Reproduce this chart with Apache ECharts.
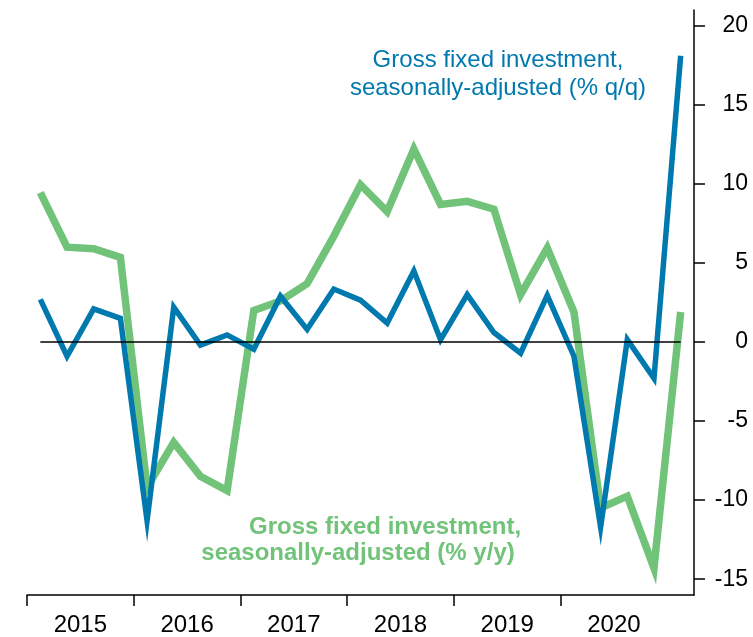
<!DOCTYPE html>
<html>
<head>
<meta charset="utf-8">
<script src="https://cdn.jsdelivr.net/npm/echarts@6/dist/echarts.min.js"></script>
<style>
  html, body { margin: 0; padding: 0; background: #fff; }
  #chart { width: 753px; height: 637px; }
</style>
</head>
<body>
<div id="chart"></div>
<script>
// quarterly, 2015 Q1 .. 2021 Q1
var quarters = ['2015Q1','2015Q2','2015Q3','2015Q4','2016Q1','2016Q2','2016Q3','2016Q4',
                '2017Q1','2017Q2','2017Q3','2017Q4','2018Q1','2018Q2','2018Q3','2018Q4',
                '2019Q1','2019Q2','2019Q3','2019Q4','2020Q1','2020Q2','2020Q3','2020Q4','2021Q1'];
var qoqValues = [2.7, -0.9, 2.1, 1.5, -11.3, 2.2, -0.2, 0.45, -0.45, 2.9, 0.8, 3.35, 2.65,
                 1.2, 4.5, 0.15, 3.0, 0.6, -0.7, 2.95, -0.9, -11.7, 0.15, -2.3, 18.1];
var yoyValues = [9.45, 6.0, 5.9, 5.35, -9.2, -6.35, -8.5, -9.4, 2.0, 2.6, 3.7, 6.7, 9.95,
                 8.25, 12.2, 8.7, 8.9, 8.4, 3.0, 5.95, 1.9, -10.5, -9.75, -14.3, 1.9];
var years = ['2015', '2016', '2017', '2018', '2019', '2020'];
var yTicks = [-15, -10, -5, 0, 5, 10, 15, 20];

var BLUE = '#0079ae';
var GREEN = '#72c37a';
var FONT = 'Liberation Sans, Arial, sans-serif';

function toPoints(values) {
    return values.map(function (v, i) { return [i + 0.5, v]; });
}

var yearTickPos = [];
var yearLabelPos = [];
years.forEach(function (y, i) {
    yearTickPos.push(i * 4);
    yearLabelPos.push(i * 4 + 2);
});

var chart = echarts.init(document.getElementById('chart'));

chart.setOption({
    animation: false,
    grid: { left: 27, right: 59, top: 10, bottom: 41 },
    xAxis: {
        type: 'value',
        min: 0,
        max: quarters.length,
        axisLine: { show: true, onZero: false, lineStyle: { color: '#000', width: 1.5 } },
        axisTick: { show: true, length: 11, customValues: yearTickPos, lineStyle: { color: '#000', width: 1.5 } },
        axisLabel: {
            customValues: yearLabelPos,
            margin: 18,
            color: '#000',
            fontSize: 24,
            fontFamily: FONT,
            formatter: function (v) { return years[Math.round((v - 2) / 4)]; }
        },
        splitLine: { show: false }
    },
    yAxis: {
        type: 'value',
        position: 'right',
        min: -16,
        max: 21,
        axisLine: { show: true, onZero: false, lineStyle: { color: '#000', width: 1.5 } },
        axisTick: { show: true, length: 11, customValues: yTicks, lineStyle: { color: '#000', width: 1.5 } },
        axisLabel: {
            customValues: yTicks,
            align: 'right',
            margin: 54,
            color: '#000',
            fontSize: 23,
            fontFamily: FONT
        },
        splitLine: { show: false }
    },
    series: [
        {
            name: 'yoy',
            type: 'line',
            data: toPoints(yoyValues),
            symbol: 'none',
            lineStyle: { color: GREEN, width: 7.5, join: 'miter' },
            z: 2
        },
        {
            name: 'qoq',
            type: 'line',
            data: toPoints(qoqValues),
            symbol: 'none',
            lineStyle: { color: BLUE, width: 5.5, join: 'miter' },
            z: 3,
            markLine: {
                silent: true,
                symbol: 'none',
                label: { show: false },
                lineStyle: { color: '#000', width: 1.5, type: 'solid' },
                data: [[{ coord: [0.5, 0] }, { coord: [quarters.length - 0.5, 0] }]]
            }
        }
    ],
    graphic: [
        {
            type: 'text',
            x: 498,
            y: 74,
            style: {
                text: 'Gross fixed investment,\nseasonally-adjusted (% q/q)',
                fill: BLUE,
                font: '24px ' + FONT,
                align: 'center',
                verticalAlign: 'middle',
                lineHeight: 28
            }
        },
        {
            type: 'text',
            x: 385,
            y: 527,
            style: {
                text: 'Gross fixed investment,',
                fill: GREEN,
                font: 'bold 24px ' + FONT,
                align: 'center',
                verticalAlign: 'middle'
            }
        },
        {
            type: 'text',
            x: 358,
            y: 553,
            style: {
                text: 'seasonally-adjusted (% y/y)',
                fill: GREEN,
                font: 'bold 24px ' + FONT,
                align: 'center',
                verticalAlign: 'middle'
            }
        }
    ]
});
</script>
</body>
</html>
